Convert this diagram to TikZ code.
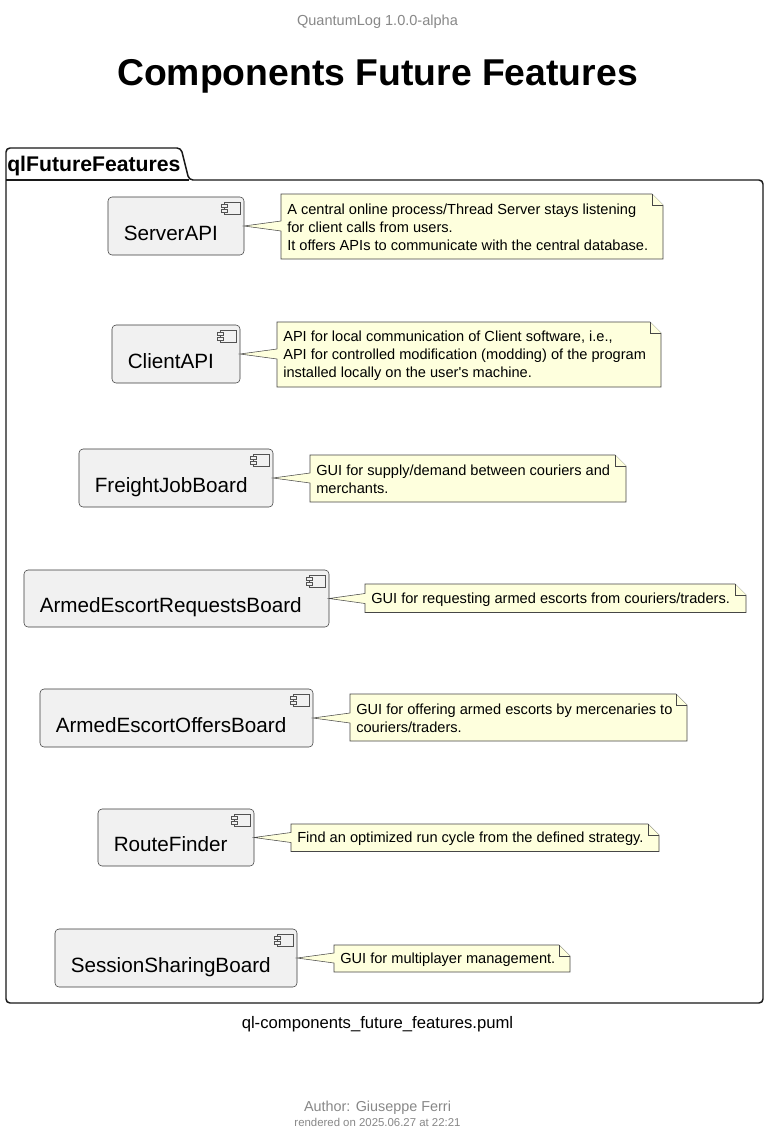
\documentclass[tikz,border=0pt]{standalone}
\usepackage{fontspec}
\setmainfont{Liberation Sans}[Ligatures={TeXOff,NoCommon}]
\usetikzlibrary{calc}
\definecolor{compfill}{HTML}{F1F1F1}
\definecolor{compline}{HTML}{181818}
\definecolor{notefill}{HTML}{FEFFDD}
\definecolor{grayt}{HTML}{888888}
\tikzset{
  px/.style={x=0.75pt,y=-0.75pt},
  compbox/.style={draw=compline!85,fill=compfill,line width=0.4pt,rounded corners=3pt,inner sep=0pt,outer sep=0pt},
  comptext/.style={font=\fontsize{15.5pt}{20pt}\selectfont,text=black,inner sep=0pt,anchor=base west},
  icon/.style={draw=compline!75,fill=compfill,line width=0.3pt},
  noteshape/.style={draw=compline!80,fill=notefill,line width=0.4pt,line join=miter},
  notetext/.style={font=\fontsize{10.95pt}{13.5pt}\selectfont,text=black,inner sep=0pt,align=left,anchor=west},
}
% name, x1,y1,x2,y2, label
\newcommand{\compitem}[6]{%
  \node[compbox,anchor=north west,minimum width={(#4-#2)*0.75pt},minimum height={(#5-#3)*0.75pt}] (#1) at (#2,#3) {};
  \node[comptext] (#1label) at (#2+15.5,#5-15) {#6};
  \draw[icon] (#4-20,#3+5) rectangle (#4-4,#3+17);
  \draw[icon] (#4-23,#3+7) rectangle (#4-17,#3+10);
  \draw[icon] (#4-23,#3+12) rectangle (#4-17,#3+15);
}
% name, component, x1,y1,x2,y2, text
\newcommand{\noteitem}[7]{%
  \coordinate (#1nw) at (#3,#4);
  \coordinate (#1se) at (#5,#6);
  \coordinate (#1tip) at (#2.east);
  \path let \p1=(#1tip) in coordinate (#1a) at (#3,\y1) ;
  \draw[noteshape] (#1nw) -- (#5-11,#4) -- (#5,#4+11) -- (#1se) -- (#3,#6)
     -- ($(#1a)+(0,5)$) -- (#1tip) -- ($(#1a)+(0,-5)$) -- cycle;
  \draw[noteshape] (#5-11,#4) -- (#5-11,#4+11) -- (#5,#4+11);
  \node[notetext] (#1) at (#3+6,{(#4+#6)/2+1}) {#7};
}
\begin{document}
\begin{tikzpicture}[px]
\useasboundingbox (0,0) rectangle (768,1146);
\fill[white] (0,0) rectangle (768,1146);
\node[font=\fontsize{10.9pt}{12pt}\selectfont,text=grayt,inner sep=0pt] (header) at (377.5,22) {QuantumLog 1.0.0-alpha};
\node[font=\fontsize{28pt}{32pt}\selectfont\bfseries,inner sep=0pt] (title) at (377.5,76) {Components Future Features};
% package
\draw[line width=1.1pt,compline,fill=white,rounded corners=3pt]
  (6,180) -- (6,148) -- (181,148) -- (189,180) -- (763,180) -- (763,1003) -- (6,1003) -- cycle;
\draw[line width=1.1pt,compline] (6,180) -- (189,180);
\node[font=\fontsize{15.9pt}{20pt}\selectfont\bfseries,inner sep=0pt,anchor=base west] (pkg) at (7,171.5) {qlFutureFeatures};
% components
\compitem{server}{108}{197}{244}{255}{ServerAPI}
\compitem{client}{112}{325}{240}{383}{ClientAPI}
\compitem{freight}{79}{449}{273}{507}{FreightJobBoard}
\compitem{requests}{24}{570}{329}{627}{ArmedEscortRequestsBoard}
\compitem{offers}{40}{689}{313}{747}{ArmedEscortOffersBoard}
\compitem{route}{98}{809}{254}{866}{RouteFinder}
\compitem{session}{55}{929}{297}{987}{SessionSharingBoard}
% notes
\noteitem{nserver}{server}{281}{194}{663}{259}{A central online process/Thread Server stays listening\\for client calls from users.\\It offers APIs to communicate with the central database.}
\noteitem{nclient}{client}{277}{322}{661}{387}{API for local communication of Client software, i.e.,\\API for controlled modification (modding) of the program\\installed locally on the user's machine.}
\noteitem{nfreight}{freight}{310}{455}{626}{502}{GUI for supply/demand between couriers and\\merchants.}
\noteitem{nrequests}{requests}{365}{584}{746}{612.5}{GUI for requesting armed escorts from couriers/traders.}
\noteitem{noffers}{offers}{350}{694}{687}{741}{GUI for offering armed escorts by mercenaries to\\couriers/traders.}
\noteitem{nroute}{route}{291}{824}{659}{851.5}{Find an optimized run cycle from the defined strategy.}
\noteitem{nsession}{session}{334}{945}{570}{972}{GUI for multiplayer management.}
% caption and footer
\node[font=\fontsize{12.5pt}{14pt}\selectfont,inner sep=0pt] (caption) at (377.5,1024) {ql-components\_future\_features.puml};
\node[font=\fontsize{10.8pt}{12pt}\selectfont,text=grayt,inner sep=0pt] (author) at (377.5,1107.5) {Author: Giuseppe Ferri};
\node[font=\fontsize{8.55pt}{10pt}\selectfont,text=grayt,inner sep=0pt] (rendered) at (377.5,1122) {rendered on 2025.06.27 at 22:21};
\end{tikzpicture}
\end{document}
